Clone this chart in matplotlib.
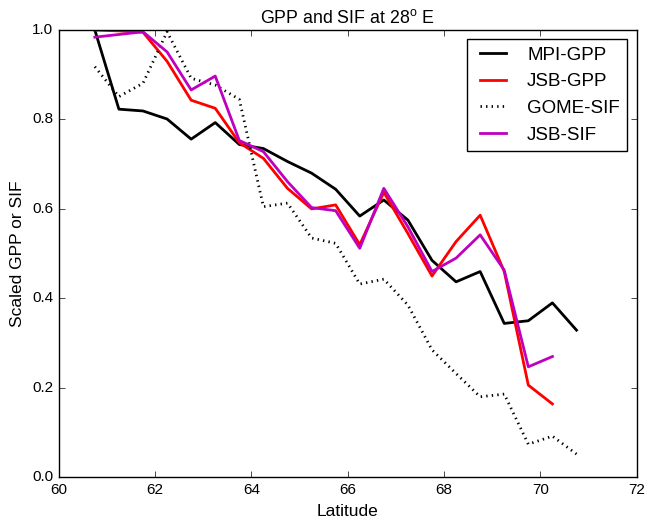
import matplotlib
matplotlib.use("Agg")
import matplotlib.pyplot as plt
import numpy as np

plt.style.use("classic")
plt.rcParams["font.family"] = ["Liberation Sans", "DejaVu Sans"]
plt.rcParams["mathtext.default"] = "regular"

lat_full = np.arange(60.75, 70.76, 0.5)   # 21 points
lat_jsb = lat_full[:20]                    # JSB series stop at 70.25

mpi_gpp = [1.0, 0.823, 0.819, 0.801, 0.756, 0.793, 0.744, 0.735, 0.706, 0.68, 0.644,
           0.584, 0.620, 0.575, 0.485, 0.437, 0.460, 0.344, 0.350, 0.390, 0.329]
jsb_gpp = [1.0, 0.998, 0.995, 0.93, 0.843, 0.825, 0.748, 0.713, 0.646, 0.600,
           0.609, 0.520, 0.637, 0.545, 0.450, 0.527, 0.586, 0.460, 0.206, 0.164]
gome_sif = [0.918, 0.851, 0.881, 0.996, 0.892, 0.877, 0.845, 0.605, 0.613, 0.535, 0.523,
            0.432, 0.443, 0.385, 0.285, 0.232, 0.180, 0.186, 0.074, 0.092, 0.052]
jsb_sif = [0.984, 0.99, 0.996, 0.951, 0.866, 0.897, 0.753, 0.728, 0.661, 0.603,
           0.596, 0.512, 0.646, 0.56, 0.460, 0.490, 0.542, 0.463, 0.247, 0.270]

fig = plt.figure(figsize=(6.46, 5.2), dpi=100, facecolor="white")
ax = fig.add_axes([58.7 / 646, 42.7 / 520, 578 / 646, 447.3 / 520])

ax.plot(lat_full, mpi_gpp, color="k", lw=2, label="MPI-GPP")
ax.plot(lat_jsb, jsb_gpp, color="#ff0000", lw=2, label="JSB-GPP")
ax.plot(lat_full, gome_sif, color="k", lw=2, ls=":", label="GOME-SIF")
ax.plot(lat_jsb, jsb_sif, color="#bf00bf", lw=2, label="JSB-SIF")

ax.set_xlim(60, 72)
ax.set_ylim(0, 1)
ax.set_xticks(np.arange(60, 73, 2))
ax.set_yticks(np.arange(0, 1.01, 0.2))
ax.tick_params(labelsize=11, direction="in", top=True, right=True)

ax.set_title("GPP and SIF at 28$^o$ E", fontsize=12.8)
ax.set_xlabel("Latitude", fontsize=12.5)
ax.set_ylabel("Scaled GPP or SIF", fontsize=12.5)

ax.legend(loc="upper right", fontsize=13.5, numpoints=2, fancybox=False)

fig.savefig("out.png", dpi=100, facecolor="white")
